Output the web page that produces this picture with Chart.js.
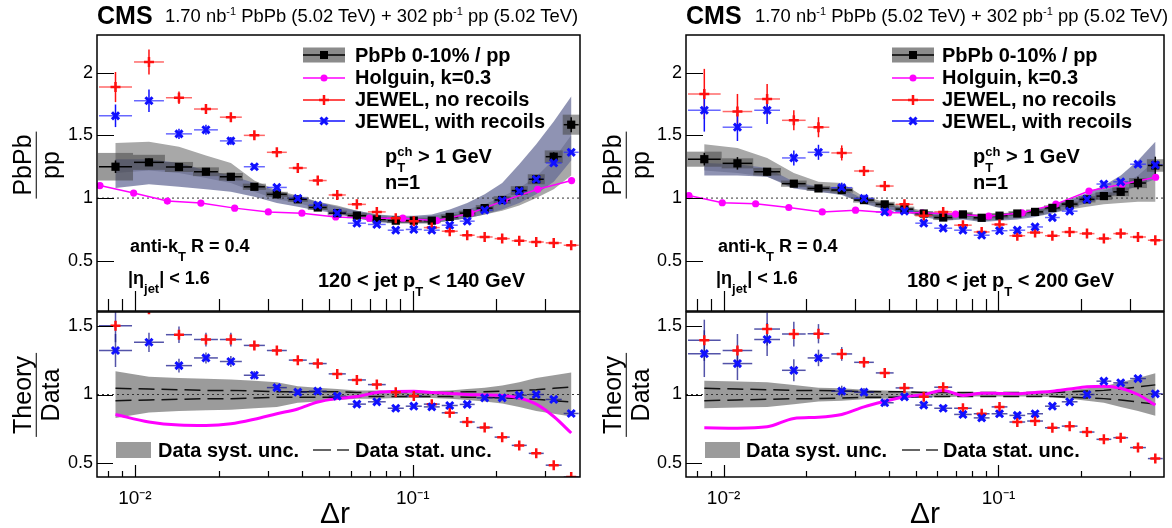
<!DOCTYPE html>
<html lang="en">
<head>
<meta charset="utf-8">
<script src="https://cdn.jsdelivr.net/npm/chart.js"></script>
<style>
  body { margin: 0; background: #fff; }
  #fig { position: relative; width: 1172px; height: 528px; overflow: hidden; background: #fff;
         font-family: 'Liberation Sans', Arial, Helvetica, sans-serif; color: #000; }
  #fig canvas { position: absolute; }
  .t { position: absolute; white-space: nowrap; line-height: 1; }
  .b { font-weight: bold; }
  .ss { display: inline-block; font-size: 13px; line-height: 16px; vertical-align: -9px; text-align: left; }
  .ss span { display: block; }
  .sb { font-size: 13px; vertical-align: -9px; line-height: 1; }
  .frac { position: absolute; transform: translate(-50%, -50%) rotate(-90deg); display: flex;
          flex-direction: column; align-items: center; font-size: 25px; line-height: 1.05; white-space: nowrap; }
  .frac .num { border-bottom: 1.5px solid #000; padding: 0 3px 1px; }
  .cx { transform: translateX(-50%); }
</style>
</head>
<body>
<div id="fig">
  <canvas id="topLow" width="590" height="330" style="left:0;top:0"></canvas>
  <canvas id="ratioLow" width="590" height="228" style="left:0;top:300px"></canvas>
  <canvas id="topHigh" width="582" height="330" style="left:590px;top:0"></canvas>
  <canvas id="ratioHigh" width="582" height="228" style="left:590px;top:300px"></canvas>

  <!-- header -->
  <div class="t b" style="left:97px;top:3px;font-size:25px">CMS</div>
  <div class="t" style="left:165px;top:6px;font-size:18.4px">1.70 nb<sup style="font-size:11px">-1</sup> PbPb (5.02 TeV) + 302 pb<sup style="font-size:11px">-1</sup> pp (5.02 TeV)</div>
  <div class="t b" style="left:686px;top:3px;font-size:25px">CMS</div>
  <div class="t" style="left:755px;top:6px;font-size:18.4px">1.70 nb<sup style="font-size:11px">-1</sup> PbPb (5.02 TeV) + 302 pb<sup style="font-size:11px">-1</sup> pp (5.02 TeV)</div>

  <!-- y titles -->
  <div class="frac" style="left:36px;top:165px"><span class="num">PbPb</span><span>pp</span></div>
  <div class="frac" style="left:36px;top:395px"><span class="num">Theory</span><span>Data</span></div>
  <div class="frac" style="left:626px;top:165px"><span class="num">PbPb</span><span>pp</span></div>
  <div class="frac" style="left:626px;top:395px"><span class="num">Theory</span><span>Data</span></div>

  <!-- x titles -->
  <div class="t cx" style="left:335px;top:498px;font-size:30px">&Delta;r</div>
  <div class="t cx" style="left:925px;top:498px;font-size:30px">&Delta;r</div>

  <!-- legends, top -->
  <div class="t b" style="left:355px;top:45px;font-size:20px">PbPb 0-10% / pp</div>
  <div class="t b" style="left:355px;top:67px;font-size:20px">Holguin, k=0.3</div>
  <div class="t b" style="left:355px;top:89px;font-size:20px">JEWEL, no recoils</div>
  <div class="t b" style="left:355px;top:111px;font-size:20px">JEWEL, with recoils</div>
  <div class="t b" style="left:942px;top:45px;font-size:20px">PbPb 0-10% / pp</div>
  <div class="t b" style="left:942px;top:67px;font-size:20px">Holguin, k=0.3</div>
  <div class="t b" style="left:942px;top:89px;font-size:20px">JEWEL, no recoils</div>
  <div class="t b" style="left:942px;top:111px;font-size:20px">JEWEL, with recoils</div>

  <!-- annotations -->
  <div class="t b" style="left:385px;top:144px;font-size:20px">p<span class="ss"><span>ch</span><span>T</span></span> &gt; 1 GeV</div>
  <div class="t b" style="left:385px;top:172px;font-size:20px">n=1</div>
  <div class="t b" style="left:318px;top:270px;font-size:20px">120 &lt; jet p<span class="sb">T</span> &lt; 140 GeV</div>
  <div class="t b" style="left:130px;top:237px;font-size:18px">anti-k<span class="sb">T</span> R = 0.4</div>
  <div class="t b" style="left:128px;top:269px;font-size:18px">|&eta;<span class="sb">jet</span>| &lt; 1.6</div>

  <div class="t b" style="left:973px;top:144px;font-size:20px">p<span class="ss"><span>ch</span><span>T</span></span> &gt; 1 GeV</div>
  <div class="t b" style="left:973px;top:172px;font-size:20px">n=1</div>
  <div class="t b" style="left:907px;top:270px;font-size:20px">180 &lt; jet p<span class="sb">T</span> &lt; 200 GeV</div>
  <div class="t b" style="left:718px;top:237px;font-size:18px">anti-k<span class="sb">T</span> R = 0.4</div>
  <div class="t b" style="left:716px;top:269px;font-size:18px">|&eta;<span class="sb">jet</span>| &lt; 1.6</div>

  <!-- legends, ratio -->
  <div class="t b" style="left:158px;top:440px;font-size:20px">Data syst. unc.</div>
  <div class="t b" style="left:355px;top:440px;font-size:20px">Data stat. unc.</div>
  <div class="t b" style="left:746px;top:440px;font-size:20px">Data syst. unc.</div>
  <div class="t b" style="left:943px;top:440px;font-size:20px">Data stat. unc.</div>
</div>

<script>
// ---- binning (same for both jet pT selections) ----
var binEdges = [0.00736, 0.00984, 0.01282, 0.01618, 0.02005, 0.02445, 0.0296, 0.0355, 0.0419, 0.0494, 0.0579, 0.0684,
                0.0806, 0.0936, 0.1087, 0.1261, 0.1464, 0.1685, 0.1955, 0.2253, 0.2594, 0.2986, 0.3466, 0.399];
var binCenters = binEdges.slice(1).map(function (e, i) { return Math.sqrt(e * binEdges[i]); });
var holguinX = [0.00748, 0.00989, 0.01308, 0.01727, 0.02285, 0.0302, 0.0399, 0.0528, 0.0698, 0.0921, 0.1219,
                0.1617, 0.2134, 0.2816, 0.373];
var xTicks = [0.008, 0.009, 0.01, 0.02, 0.03, 0.04, 0.05, 0.06, 0.07, 0.08, 0.09, 0.1, 0.2, 0.3];
var xMajor = [0.01, 0.1];

// ---- 120 < jet pT < 140 GeV ----
var lowData      = [1.25, 1.285, 1.248, 1.21, 1.17, 1.09, 1.03, 0.99, 0.925, 0.88, 0.86, 0.83, 0.82, 0.82, 0.82, 0.85, 0.88, 0.92, 0.985, 1.06, 1.15, 1.33, 1.585];
var lowDataStat  = [0.05, 0.03, 0.025, 0.02, 0.015, 0.015, 0.01, 0.01, 0.01, 0.01, 0.01, 0.01, 0.01, 0.01, 0.01, 0.01, 0.01, 0.01, 0.015, 0.02, 0.025, 0.035, 0.06];
var lowDataSyst  = [0.11, 0.06, 0.04, 0.035, 0.03, 0.025, 0.02, 0.02, 0.02, 0.02, 0.02, 0.02, 0.02, 0.02, 0.02, 0.02, 0.02, 0.025, 0.03, 0.035, 0.04, 0.05, 0.08];
var lowGrayHi    = [1.44, 1.45, 1.41, 1.34, 1.28, 1.14, 1.06, 1.02, 0.97, 0.94, 0.90, 0.87, 0.85, 0.85, 0.86, 0.88, 0.91, 0.95, 1.01, 1.08, 1.17, 1.31, 1.50];
var lowGrayLo    = [1.20, 1.22, 1.20, 1.16, 1.12, 1.05, 0.99, 0.96, 0.92, 0.88, 0.84, 0.81, 0.80, 0.80, 0.80, 0.82, 0.84, 0.87, 0.90, 0.94, 1.00, 1.07, 1.18];
var lowSlateHi   = [1.31, 1.31, 1.28, 1.22, 1.18, 1.12, 1.05, 1.01, 0.97, 0.93, 0.90, 0.87, 0.86, 0.86, 0.87, 0.91, 0.96, 1.03, 1.12, 1.27, 1.43, 1.61, 1.81];
var lowSlateLo   = [1.08, 1.11, 1.09, 1.07, 1.05, 1.01, 0.96, 0.93, 0.90, 0.88, 0.84, 0.81, 0.80, 0.80, 0.80, 0.82, 0.84, 0.87, 0.91, 0.96, 1.03, 1.13, 1.30];
var lowHolguin   = [1.10, 1.04, 0.976, 0.96, 0.92, 0.89, 0.88, 0.85, 0.84, 0.84, 0.82, 0.88, 0.98, 1.07, 1.14];
var lowNoRec     = [1.885, 2.085, 1.80, 1.71, 1.645, 1.50, 1.365, 1.24, 1.14, 1.025, 0.95, 0.89, 0.84, 0.816, 0.765, 0.736, 0.704, 0.69, 0.677, 0.66, 0.65, 0.643, 0.624];
var lowNoRecErr  = [0.12, 0.10, 0.05, 0.04, 0.03, 0.02, 0.02, 0.015, 0.015, 0.01, 0.01, 0.01, 0.01, 0.01, 0.01, 0.01, 0.01, 0.01, 0.01, 0.01, 0.01, 0.01, 0.01];
var lowRec       = [1.656, 1.776, 1.512, 1.544, 1.456, 1.25, 1.085, 0.997, 0.944, 0.88, 0.80, 0.79, 0.744, 0.75, 0.744, 0.784, 0.816, 0.904, 0.98, 1.055, 1.15, 1.28, 1.365];
var lowRecErr    = [0.09, 0.09, 0.04, 0.04, 0.03, 0.02, 0.015, 0.015, 0.01, 0.01, 0.01, 0.01, 0.01, 0.01, 0.01, 0.01, 0.01, 0.01, 0.01, 0.01, 0.01, 0.01, 0.01];
var lowRatioNoRec    = [1.50, 1.62, 1.435, 1.40, 1.40, 1.357, 1.32, 1.25, 1.225, 1.15, 1.106, 1.072, 1.017, 0.99, 0.93, 0.867, 0.80, 0.76, 0.69, 0.63, 0.572, 0.486, 0.40];
var lowRatioNoRecErr = [0.12, 0.03, 0.06, 0.05, 0.05, 0.03, 0.03, 0.025, 0.02, 0.02, 0.015, 0.015, 0.015, 0.015, 0.015, 0.015, 0.015, 0.015, 0.015, 0.015, 0.015, 0.015, 0.015];
var lowRatioRec      = [1.32, 1.38, 1.21, 1.266, 1.24, 1.14, 1.05, 1.017, 1.024, 0.988, 0.93, 0.947, 0.90, 0.915, 0.91, 0.92, 0.928, 0.976, 0.976, 0.995, 1.0, 0.964, 0.862];
var lowRatioRecErr   = [0.12, 0.07, 0.05, 0.04, 0.04, 0.03, 0.02, 0.02, 0.02, 0.015, 0.015, 0.015, 0.015, 0.015, 0.015, 0.015, 0.015, 0.015, 0.015, 0.015, 0.015, 0.015, 0.015];
var lowRatioHolguin  = [0.855, 0.80, 0.778, 0.775, 0.787, 0.82, 0.86, 0.895, 0.945, 0.97, 0.985, 1.015, 1.022, 1.024, 1.015, 1.008, 1.0, 0.997, 0.993, 0.975, 0.93, 0.84, 0.72];
var lowRatioSyst     = [0.17, 0.13, 0.12, 0.115, 0.11, 0.10, 0.09, 0.06, 0.05, 0.04, 0.03, 0.03, 0.025, 0.025, 0.025, 0.03, 0.04, 0.05, 0.065, 0.09, 0.12, 0.14, 0.16];
var lowRatioStat     = [0.045, 0.04, 0.035, 0.03, 0.03, 0.025, 0.02, 0.02, 0.02, 0.02, 0.015, 0.015, 0.015, 0.015, 0.015, 0.015, 0.02, 0.02, 0.025, 0.03, 0.035, 0.045, 0.055];

// ---- 180 < jet pT < 200 GeV ----
var highData      = [1.31, 1.277, 1.21, 1.115, 1.077, 1.064, 0.984, 0.95, 0.912, 0.877, 0.845, 0.87, 0.843, 0.86, 0.877, 0.89, 0.922, 0.952, 0.99, 1.016, 1.05, 1.12, 1.26];
var highDataStat  = [0.05, 0.05, 0.03, 0.02, 0.02, 0.02, 0.015, 0.015, 0.01, 0.01, 0.01, 0.01, 0.01, 0.01, 0.01, 0.01, 0.01, 0.015, 0.015, 0.02, 0.03, 0.05, 0.07];
var highDataSyst  = [0.06, 0.04, 0.03, 0.025, 0.02, 0.02, 0.02, 0.02, 0.02, 0.02, 0.02, 0.02, 0.02, 0.02, 0.02, 0.02, 0.02, 0.02, 0.025, 0.03, 0.035, 0.04, 0.05];
var highGrayHi    = [1.43, 1.40, 1.32, 1.20, 1.13, 1.12, 1.01, 0.97, 0.93, 0.90, 0.88, 0.88, 0.87, 0.88, 0.89, 0.91, 0.94, 0.98, 1.02, 1.06, 1.10, 1.18, 1.30];
var highGrayLo    = [1.22, 1.20, 1.17, 1.09, 1.05, 1.03, 0.96, 0.92, 0.89, 0.86, 0.83, 0.84, 0.82, 0.83, 0.84, 0.86, 0.88, 0.91, 0.93, 0.95, 0.96, 0.97, 0.97];
var highSlateHi   = [1.28, 1.27, 1.24, 1.13, 1.09, 1.08, 0.99, 0.95, 0.92, 0.89, 0.87, 0.88, 0.86, 0.87, 0.89, 0.91, 0.94, 0.99, 1.04, 1.10, 1.18, 1.30, 1.45];
var highSlateLo   = [1.18, 1.18, 1.17, 1.077, 1.05, 1.024, 0.955, 0.91, 0.89, 0.85, 0.82, 0.83, 0.81, 0.82, 0.83, 0.85, 0.88, 0.92, 0.96, 1.00, 1.04, 1.10, 1.15];
var highHolguin   = [1.02, 0.963, 0.955, 0.925, 0.89, 0.904, 0.883, 0.883, 0.872, 0.856, 0.883, 0.952, 1.056, 1.11, 1.166];
var highNoRec     = [1.83, 1.69, 1.79, 1.62, 1.565, 1.36, 1.216, 1.096, 0.95, 0.86, 0.89, 0.784, 0.73, 0.79, 0.70, 0.725, 0.70, 0.73, 0.717, 0.677, 0.717, 0.69, 0.664];
var highNoRecErr  = [0.2, 0.14, 0.12, 0.08, 0.08, 0.06, 0.04, 0.03, 0.02, 0.02, 0.02, 0.015, 0.015, 0.015, 0.015, 0.015, 0.01, 0.01, 0.01, 0.01, 0.01, 0.01, 0.01];
var highRec       = [1.70, 1.565, 1.70, 1.32, 1.365, 1.083, 0.997, 0.89, 0.896, 0.80, 0.76, 0.744, 0.704, 0.74, 0.744, 0.77, 0.845, 0.896, 0.99, 1.112, 1.13, 1.27, 1.264];
var highRecErr    = [0.17, 0.11, 0.11, 0.06, 0.06, 0.04, 0.03, 0.02, 0.02, 0.015, 0.015, 0.015, 0.015, 0.015, 0.015, 0.015, 0.015, 0.015, 0.015, 0.015, 0.015, 0.02, 0.02];
var highRatioNoRec    = [1.394, 1.32, 1.476, 1.44, 1.442, 1.295, 1.234, 1.157, 1.048, 0.983, 1.053, 0.90, 0.86, 0.91, 0.80, 0.807, 0.758, 0.77, 0.727, 0.674, 0.686, 0.614, 0.534];
var highRatioNoRecErr = [0.15, 0.12, 0.12, 0.09, 0.07, 0.05, 0.04, 0.03, 0.03, 0.02, 0.02, 0.02, 0.02, 0.02, 0.02, 0.02, 0.015, 0.015, 0.015, 0.015, 0.015, 0.015, 0.015];
var highRatioRec      = [1.297, 1.225, 1.40, 1.176, 1.266, 1.024, 1.017, 0.94, 0.983, 0.923, 0.90, 0.855, 0.83, 0.86, 0.848, 0.86, 0.915, 0.947, 1.0, 1.097, 1.085, 1.116, 1.005];
var highRatioRecErr   = [0.17, 0.12, 0.12, 0.08, 0.06, 0.04, 0.03, 0.025, 0.02, 0.02, 0.02, 0.02, 0.02, 0.02, 0.02, 0.02, 0.015, 0.015, 0.015, 0.015, 0.015, 0.015, 0.015];
var highRatioHolguin  = [0.758, 0.755, 0.765, 0.826, 0.835, 0.855, 0.91, 0.95, 0.983, 1.0, 1.03, 0.993, 1.01, 1.008, 1.005, 1.015, 1.024, 1.04, 1.056, 1.06, 1.045, 1.0, 0.923];
var highRatioSyst     = [0.10, 0.095, 0.09, 0.07, 0.05, 0.045, 0.035, 0.03, 0.025, 0.02, 0.02, 0.015, 0.015, 0.015, 0.015, 0.015, 0.02, 0.03, 0.045, 0.06, 0.09, 0.12, 0.155];
var highRatioStat     = [0.045, 0.04, 0.035, 0.03, 0.03, 0.025, 0.02, 0.02, 0.02, 0.015, 0.015, 0.015, 0.015, 0.015, 0.015, 0.015, 0.015, 0.02, 0.025, 0.03, 0.04, 0.055, 0.07];

var FONT = "'Liberation Sans', Arial, Helvetica, sans-serif";
var RED = '#ff1010', BLUE = '#1010ff', MAGENTA = '#ff00ff';

function pts(xs, ys) { return ys.map(function (y, i) { return { x: xs[i], y: y }; }); }
function aroundOne(d, s) { return d.map(function (v) { return 1 + s * v; }); }

// little marker painters, used for the legend symbols
function marker(ctx, kind, x, y) {
  ctx.save();
  ctx.beginPath();
  if (kind === 'rect') { ctx.fillStyle = '#000'; ctx.fillRect(x - 4, y - 4, 8, 8); }
  if (kind === 'circle') { ctx.fillStyle = MAGENTA; ctx.arc(x, y, 3.5, 0, Math.PI * 2); ctx.fill(); }
  if (kind === 'cross') { ctx.strokeStyle = RED; ctx.lineWidth = 2.5; ctx.moveTo(x - 5, y); ctx.lineTo(x + 5, y); ctx.moveTo(x, y - 5); ctx.lineTo(x, y + 5); ctx.stroke(); }
  if (kind === 'crossRot') { ctx.strokeStyle = BLUE; ctx.lineWidth = 3; ctx.moveTo(x - 3.5, y - 3.5); ctx.lineTo(x + 3.5, y + 3.5); ctx.moveTo(x + 3.5, y - 3.5); ctx.lineTo(x - 3.5, y + 3.5); ctx.stroke(); }
  ctx.restore();
}

function drawBand(ctx, xs, ys, hi, lo, color) {
  ctx.beginPath();
  binCenters.forEach(function (c, i) {
    var X = xs.getPixelForValue(c), Y = ys.getPixelForValue(hi[i]);
    if (i) ctx.lineTo(X, Y); else ctx.moveTo(X, Y);
  });
  for (var i = binCenters.length - 1; i >= 0; i--) ctx.lineTo(xs.getPixelForValue(binCenters[i]), ys.getPixelForValue(lo[i]));
  ctx.closePath();
  ctx.fillStyle = color;
  ctx.fill();
}

// ROOT-like decorations: bands, boxes, error bars, frame with inward ticks, legend symbols
var rootDecor = {
  id: 'rootDecor',
  beforeDatasetsDraw: function (chart, args, o) {
    var ctx = chart.ctx, a = chart.chartArea, xs = chart.scales.x, ys = chart.scales.y;
    ctx.save();
    ctx.beginPath(); ctx.rect(a.left, a.top, a.width, a.height); ctx.clip();
    (o.bands || []).forEach(function (b) { drawBand(ctx, xs, ys, b.hi, b.lo, b.color); });

    var y1 = ys.getPixelForValue(1);
    ctx.setLineDash([2, 3]); ctx.lineWidth = 1; ctx.strokeStyle = '#333';
    ctx.beginPath(); ctx.moveTo(a.left, y1); ctx.lineTo(a.right, y1); ctx.stroke();

    (o.dashed || []).forEach(function (line) {
      ctx.setLineDash([16, 7]); ctx.lineWidth = 1.5; ctx.strokeStyle = '#111';
      ctx.beginPath();
      binCenters.forEach(function (c, i) {
        var X = xs.getPixelForValue(c), Y = ys.getPixelForValue(line[i]);
        if (i) ctx.lineTo(X, Y); else ctx.moveTo(X, Y);
      });
      ctx.stroke();
    });
    ctx.setLineDash([]);

    if (o.boxes) {
      ctx.fillStyle = o.boxes.color;
      o.boxes.y.forEach(function (v, i) {
        var x0 = xs.getPixelForValue(binEdges[i]), x1 = xs.getPixelForValue(binEdges[i + 1]);
        var yt = ys.getPixelForValue(v + o.boxes.half[i]), yb = ys.getPixelForValue(v - o.boxes.half[i]);
        ctx.fillRect(x0, yt, x1 - x0, yb - yt);
      });
    }

    (o.errors || []).forEach(function (e) {
      ctx.lineWidth = e.width || 1.5;
      e.y.forEach(function (v, i) {
        var xl = xs.getPixelForValue(binEdges[i]) + 1, xr = xs.getPixelForValue(binEdges[i + 1]) - 1;
        var xc = xs.getPixelForValue(binCenters[i]), yc = ys.getPixelForValue(v);
        ctx.strokeStyle = e.hColor || e.color;
        ctx.beginPath(); ctx.moveTo(xl, yc); ctx.lineTo(xr, yc); ctx.stroke();
        ctx.strokeStyle = e.color;
        ctx.beginPath(); ctx.moveTo(xc, ys.getPixelForValue(v + e.err[i])); ctx.lineTo(xc, ys.getPixelForValue(v - e.err[i])); ctx.stroke();
      });
    });
    ctx.restore();
  },
  afterDraw: function (chart, args, o) {
    var ctx = chart.ctx, a = chart.chartArea, xs = chart.scales.x, ys = chart.scales.y;
    ctx.save();
    ctx.strokeStyle = '#000'; ctx.lineWidth = 1.2;
    ctx.beginPath();
    ys.ticks.forEach(function (t) {
      var Y = Math.round(ys.getPixelForValue(t.value)) + 0.5;
      var major = Math.abs(t.value * 2 - Math.round(t.value * 2)) < 1e-6;
      ctx.moveTo(a.left, Y); ctx.lineTo(a.left + (major ? o.yMajor : o.yMinor), Y);
    });
    xTicks.forEach(function (v) {
      var X = Math.round(xs.getPixelForValue(v)) + 0.5;
      var major = xMajor.indexOf(v) >= 0;
      ctx.moveTo(X, a.bottom); ctx.lineTo(X, a.bottom - (major ? o.xMajor : o.xMinor));
    });
    ctx.stroke();
    ctx.lineWidth = 1.5;
    ctx.strokeRect(a.left, a.top, a.width, a.height);

    if (o.legend) {
      var x0 = a.left + 206, x1 = a.left + 248, xm = (x0 + x1) / 2;
      var rows = [55, 78, 100, 121];
      ctx.fillStyle = 'rgba(90,90,90,0.7)';
      ctx.fillRect(x0, rows[0] - 7.5, x1 - x0, 15);
      ['#000', MAGENTA, RED, BLUE].forEach(function (c, k) {
        ctx.strokeStyle = c; ctx.lineWidth = 1.5;
        ctx.beginPath(); ctx.moveTo(x0, rows[k]); ctx.lineTo(x1, rows[k]); ctx.stroke();
      });
      marker(ctx, 'rect', xm, rows[0]);
      marker(ctx, 'circle', xm, rows[1]);
      marker(ctx, 'cross', xm, rows[2]);
      marker(ctx, 'crossRot', xm, rows[3]);
    }
    if (o.ratioLegend) {
      var ly = 150;
      ctx.fillStyle = 'rgba(130,130,130,0.8)';
      ctx.fillRect(a.left + 19, ly - 8, 35, 16);
      ctx.strokeStyle = '#333'; ctx.lineWidth = 1.5; ctx.setLineDash([18, 6]);
      ctx.beginPath(); ctx.moveTo(a.left + 216, ly); ctx.lineTo(a.left + 252, ly); ctx.stroke();
    }
    ctx.restore();
  }
};
Chart.register(rootDecor);

function yAxis(min, max, width) {
  return {
    min: min, max: max,
    grid: { display: false, drawTicks: false }, border: { display: false },
    ticks: {
      stepSize: 0.1, autoSkip: false, padding: 4, color: '#000', font: { family: FONT, size: 18 },
      callback: function (v) {
        if (Math.abs(v * 2 - Math.round(v * 2)) > 1e-6) return null;
        return Math.abs(v - Math.round(v)) < 1e-6 ? String(Math.round(v)) : v.toFixed(1);
      }
    },
    afterFit: function (s) { s.width = width; s.paddingTop = 0; s.paddingBottom = 0; }
  };
}

function xAxis(show) {
  var axis = {
    type: 'logarithmic', min: 0.0073, max: 0.4, display: show,
    grid: { display: false, drawTicks: false }, border: { display: false },
    ticks: {
      autoSkip: false, maxRotation: 0, padding: 10, color: '#000', font: { family: FONT, size: 19 },
      callback: function (v) {
        if (Math.abs(v - 0.01) < 1e-9) return '10\u207B\u00B2';
        if (Math.abs(v - 0.1) < 1e-9) return '10\u207B\u00B9';
        return null;
      }
    }
  };
  if (show) axis.afterFit = function (s) { s.height = 51; s.paddingLeft = 0; s.paddingRight = 0; };
  return axis;
}

function topPanel(id, yw, padRight, d) {
  return new Chart(document.getElementById(id), {
    type: 'scatter',
    data: {
      datasets: [
        { label: 'JEWEL, with recoils', data: pts(binCenters, d.rec), pointStyle: 'crossRot', pointRadius: 5,
          pointBorderWidth: 3, borderColor: BLUE, backgroundColor: BLUE, order: 1 },
        { label: 'JEWEL, no recoils', data: pts(binCenters, d.noRec), pointStyle: 'cross', pointRadius: 5,
          pointBorderWidth: 2.5, borderColor: RED, backgroundColor: RED, order: 2 },
        { label: 'PbPb 0-10% / pp', data: pts(binCenters, d.data), pointStyle: 'rect', pointRadius: 5.8,
          pointBorderWidth: 0, borderColor: '#000', backgroundColor: '#000', order: 3 },
        { label: 'Holguin, k=0.3', data: pts(holguinX, d.holguin), showLine: true, borderColor: MAGENTA,
          backgroundColor: MAGENTA, borderWidth: 1.5, pointRadius: 3.6, pointBorderWidth: 0, order: 4 }
      ]
    },
    options: {
      responsive: false, animation: false, devicePixelRatio: 1,
      layout: { padding: { left: 0, top: 35, right: padRight, bottom: 19 } },
      plugins: {
        legend: { display: false }, tooltip: { enabled: false },
        rootDecor: {
          yMajor: 17, yMinor: 8, xMajor: 20, xMinor: 12, legend: true,
          bands: [
            { hi: d.grayHi, lo: d.grayLo, color: 'rgb(168,168,168)' },
            { hi: d.slateHi, lo: d.slateLo, color: 'rgba(100,105,150,0.72)' }
          ],
          boxes: { y: d.data, half: d.syst, color: 'rgba(70,70,70,0.55)' },
          errors: [
            { y: d.noRec, err: d.noRecErr, color: RED, hColor: 'rgba(255,40,40,0.7)' },
            { y: d.rec, err: d.recErr, color: BLUE, hColor: 'rgba(40,40,255,0.7)' },
            { y: d.data, err: d.stat, color: '#000' }
          ]
        }
      },
      scales: { x: xAxis(false), y: yAxis(0.1, 2.3, yw) }
    }
  });
}

function ratioPanel(id, yw, padRight, d) {
  return new Chart(document.getElementById(id), {
    type: 'scatter',
    data: {
      datasets: [
        { label: 'JEWEL, with recoils', data: pts(binCenters, d.rec), pointStyle: 'crossRot', pointRadius: 5,
          pointBorderWidth: 3, borderColor: BLUE, backgroundColor: BLUE, clip: 0, order: 1 },
        { label: 'JEWEL, no recoils', data: pts(binCenters, d.noRec), pointStyle: 'cross', pointRadius: 5,
          pointBorderWidth: 2.5, borderColor: RED, backgroundColor: RED, clip: 0, order: 2 },
        { label: 'Holguin, k=0.3', data: pts(binCenters, d.holguin), showLine: true, pointRadius: 0,
          borderColor: MAGENTA, borderWidth: 3, cubicInterpolationMode: 'monotone', clip: 0, order: 3 }
      ]
    },
    options: {
      responsive: false, animation: false, devicePixelRatio: 1,
      layout: { padding: { left: 0, top: 12, right: padRight, bottom: 0 } },
      plugins: {
        legend: { display: false }, tooltip: { enabled: false },
        rootDecor: {
          yMajor: 16, yMinor: 8, xMajor: 12, xMinor: 6, ratioLegend: true,
          bands: [{ hi: aroundOne(d.syst, 1), lo: aroundOne(d.syst, -1), color: 'rgba(130,130,130,0.8)' }],
          dashed: [aroundOne(d.stat, 1), aroundOne(d.stat, -1)],
          errors: [
            { y: d.noRec, err: d.noRecErr, color: 'rgba(25,25,140,0.75)' },
            { y: d.rec, err: d.recErr, color: 'rgba(25,25,140,0.75)' }
          ]
        }
      },
      scales: { x: xAxis(true), y: yAxis(0.4, 1.6, yw) }
    }
  });
}

topPanel('topLow', 97, 10, {
  data: lowData, stat: lowDataStat, syst: lowDataSyst, grayHi: lowGrayHi, grayLo: lowGrayLo,
  slateHi: lowSlateHi, slateLo: lowSlateLo, holguin: lowHolguin,
  noRec: lowNoRec, noRecErr: lowNoRecErr, rec: lowRec, recErr: lowRecErr
});
ratioPanel('ratioLow', 97, 10, {
  noRec: lowRatioNoRec, noRecErr: lowRatioNoRecErr, rec: lowRatioRec, recErr: lowRatioRecErr,
  holguin: lowRatioHolguin, syst: lowRatioSyst, stat: lowRatioStat
});
topPanel('topHigh', 96, 5, {
  data: highData, stat: highDataStat, syst: highDataSyst, grayHi: highGrayHi, grayLo: highGrayLo,
  slateHi: highSlateHi, slateLo: highSlateLo, holguin: highHolguin,
  noRec: highNoRec, noRecErr: highNoRecErr, rec: highRec, recErr: highRecErr
});
ratioPanel('ratioHigh', 96, 5, {
  noRec: highRatioNoRec, noRecErr: highRatioNoRecErr, rec: highRatioRec, recErr: highRatioRecErr,
  holguin: highRatioHolguin, syst: highRatioSyst, stat: highRatioStat
});
</script>
</body>
</html>
